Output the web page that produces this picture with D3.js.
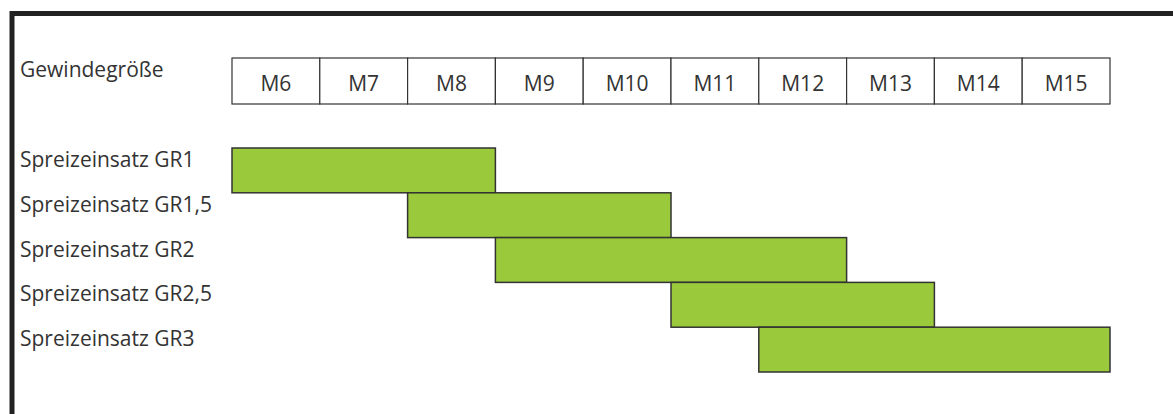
<!DOCTYPE html>
<html>
<head>
<meta charset="utf-8">
<script src="https://cdn.jsdelivr.net/npm/d3@7"></script>
<style>
  body { margin: 0; background: #fff; }
  text { font-family: "Open Sans", sans-serif; fill: #333; }
</style>
</head>
<body>
<div id="chart"></div>
<script>
const width = 1173, height = 414;

// thread sizes along the top
const sizes = ["M6", "M7", "M8", "M9", "M10", "M11", "M12", "M13", "M14", "M15"];
// inserts and the thread range each one covers
const inserts = ["Spreizeinsatz GR1", "Spreizeinsatz GR1,5", "Spreizeinsatz GR2", "Spreizeinsatz GR2,5", "Spreizeinsatz GR3"];
const fromSize = ["M6", "M8", "M9", "M11", "M12"];
const toSize = ["M8", "M10", "M12", "M13", "M15"];

const svg = d3.select("#chart").append("svg")
  .attr("width", width)
  .attr("height", height);

const x = d3.scaleBand().domain(sizes).range([232, 1110]);
const y = d3.scaleBand().domain(inserts).range([148, 372]);

// frame (left and top only, the rest is cut off)
svg.append("path")
  .attr("d", "M12,414V13.5H1173")
  .attr("fill", "none")
  .attr("stroke", "#222")
  .attr("stroke-width", 5);

svg.append("text")
  .attr("x", 20)
  .attr("y", 77)
  .style("font-size", "21px")
  .text("Gewindegröße");

// header cells
const head = svg.selectAll(".head")
  .data(sizes)
  .enter().append("g")
  .attr("class", "head");

head.append("rect")
  .attr("x", d => x(d))
  .attr("y", 58)
  .attr("width", x.bandwidth())
  .attr("height", 46)
  .attr("fill", "#fff")
  .attr("stroke", "#333")
  .attr("stroke-width", 1.2);

head.append("text")
  .attr("x", d => x(d) + x.bandwidth() / 2)
  .attr("y", 90.5)
  .style("text-anchor", "middle")
  .style("font-size", "21px")
  .text(d => d);

// row labels
svg.selectAll(".rowLabel")
  .data(inserts)
  .enter().append("text")
  .attr("class", "rowLabel")
  .attr("x", 20)
  .attr("y", d => y(d) + 19)
  .style("font-size", "21px")
  .text(d => d);

// bars
svg.selectAll(".bar")
  .data(inserts)
  .enter().append("rect")
  .attr("class", "bar")
  .attr("x", (d, i) => x(fromSize[i]))
  .attr("y", d => y(d))
  .attr("width", (d, i) => x(toSize[i]) + x.bandwidth() - x(fromSize[i]))
  .attr("height", y.bandwidth())
  .attr("fill", "#9aca3c")
  .attr("stroke", "#333")
  .attr("stroke-width", 1.5);
</script>
</body>
</html>
